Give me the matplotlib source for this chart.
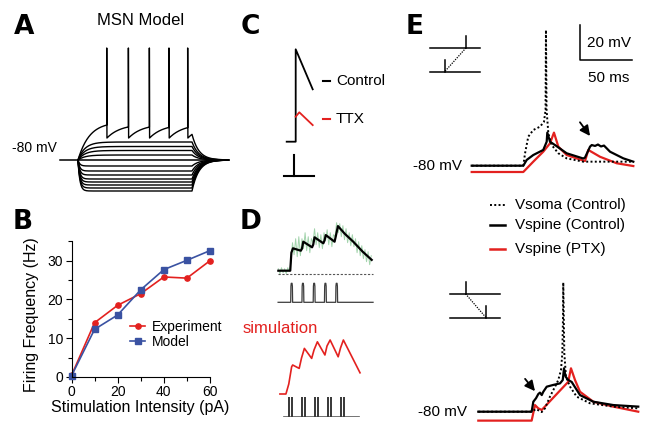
import numpy as np
import matplotlib
matplotlib.use("Agg")
import matplotlib.pyplot as plt

plt.rcParams["font.family"] = ["Liberation Sans", "DejaVu Sans"]

W, H = 649, 425
RED = "#e3211f"
BLUE = "#3a52a2"
GREEN = "#a3d4ad"
GREY = "#3c3c3c"

# -------------------------------------------------------
# Data
# -------------------------------------------------------
# A: MSN model, current steps (mV / ms)
a_rest = -80
a_step_ms = 500
a_levels = [-62, -66.5, -70.5, -75, -86, -91, -95, -99, -102, -105, -108, -111]
a_spike_ms = [126, 221, 313, 399, 481]
a_spike_top = 32
a_spike_trough = -58

# B: f-I curve
stim_pA = [0, 10, 20, 30, 40, 50, 60]
freq_exp = [0.4, 14.0, 18.5, 21.5, 25.8, 25.5, 30.0]
freq_model = [0.3, 12.3, 16.0, 22.5, 27.7, 30.1, 32.6]

# C: control vs TTX (ms, mV above rest)
c_control_t = [-18, 0, 0, 34]
c_control_v = [0, 0, 46.2, 26.2]
c_ttx_t = [0, 7.2, 34]
c_ttx_v = [12.5, 14.7, 8.3]

# D: experiment (black), noisy recording (green), simulation (red)
d_exp_t = [-55, -2, 3, 10, 45, 50, 56, 95, 100, 106, 145, 150, 156, 195, 200, 210, 240, 278, 320, 360]
d_exp_v = [-80, -80, -71, -68.8, -70, -69, -65.5, -68.3, -67, -63.3, -66.3, -65, -62.2, -65.5, -63,
           -57.7, -61.5, -65.5, -70.5, -74.6]
d_rec_v = [-79, -81.5, -78.5, -81, -79, -81.5, -78.5, -80.5, -76, -66, -72, -64, -73, -63, -72.5,
           -64, -69, -61, -70, -63, -71, -64, -66, -59, -67, -61, -68.5, -62, -69, -61,
           -65, -59.5, -67, -61, -68, -62, -63, -56, -61, -56.5, -63, -57.5, -64.5, -59, -66,
           -61, -67.5, -62, -68, -64, -71, -65.5, -72.5, -67.5, -74, -69.5, -75.5, -70.5, -77, -72.5]
d_rec_t = np.arange(-55, 365, 7)
d_pulse_ms = [0, 50, 100, 150, 200]
d_sim_t = [-31, -8, 3, 14, 18, 43, 52, 63, 91, 100, 113, 142, 150, 162, 193, 202, 213, 277]
d_sim_v = [-80, -80, -75, -66.4, -65.5, -67.2, -62, -57.2, -62.2, -58, -53.9, -60.5, -56, -53,
           -61.4, -57, -53, -69.4]
d_burst_ms = [0, 50, 100, 150, 200]
d_burst_offsets = [0, 5, 10, 15]

# E: upper pairing (spine first)
e1_spine_t = [0, 49.6, 52.9, 59.2, 68.8, 72.1, 72.7, 75.3, 80.1, 91.3, 107.3, 109, 113.8, 115.4,
              118.6, 121.4, 124.3, 127.2, 133, 145.8, 155.4]
e1_spine_v = [-80, -80, -76.7, -73.9, -71.0, -66.3, -61.1, -66.3, -68.2, -72.9, -75.9, -75.3, -69.1,
              -68.2, -68.7, -67.9, -69.0, -68.5, -72, -75.8, -77.7]
e1_ptx_t = [0, 49.6, 59.2, 68.8, 75.3, 79.1, 83.3, 91.3, 107.3, 109, 112.1, 123.4, 139.4, 155.4]
e1_ptx_v = [-83.6, -83.6, -77.7, -72, -67.2, -61.1, -69.1, -73.9, -77.1, -77.3, -71, -74.9, -78.6, -80.2]
e1_soma_t = [0, 49.6, 51.3, 54.4, 59.2, 65.7, 69.5, 71.0, 71.4, 72.0, 73.7, 76.9, 83.3, 91.3, 107.3, 155.4]
e1_soma_v = [-80, -80, -72.9, -63.4, -59.6, -57.7, -54.9, -48.2, -2.5, -48.2, -61.5, -68.2, -72.9,
             -75.8, -77.7, -77.7]

# E: lower pairing (soma first)
e2_spine_t = [0, 51.3, 52.9, 55.5, 57.7, 59.3, 61, 62.5, 65.8, 72.1, 78.6, 81.2, 82.4, 84, 86.5,
              89.8, 97.8, 110.6, 129.8, 153.8]
e2_spine_v = [-80, -80, -74.3, -72.3, -69.9, -69.1, -70.5, -68.6, -65.7, -64.7, -63.8, -61.9, -55.2,
              -60, -61.9, -63, -70.5, -74.3, -76.2, -77.1]
e2_ptx_t = [0, 51.3, 54.5, 57.7, 61, 86.5, 89.1, 93, 97.8, 110.6, 129.8, 153.8]
e2_ptx_v = [-85.1, -85.1, -76.2, -78.1, -79, -62.9, -55.2, -61.9, -68.6, -74.3, -77.1, -80]
e2_soma_t = [0, 51.3, 55.5, 61, 64.1, 68.9, 73.8, 76.9, 79.5, 80.8, 81.4, 81.7, 82.7, 84.3, 88.2,
             94.6, 107.4, 129.8, 153.8]
e2_soma_v = [-80, -80, -78.5, -80.2, -78.1, -71.4, -65.7, -61.9, -56.2, -46.6, -27.6, -6.2, -46.6,
             -60, -65.7, -71.4, -75.2, -77.1, -78.1]

e_scale_mv = 20
e_scale_ms = 50


fig = plt.figure(figsize=(W / 100, H / 100), dpi=100)

# overlay in pixel units, only for labels and legend keys
over = fig.add_axes([0, 0, 1, 1], zorder=5)
over.set_xlim(0, W)
over.set_ylim(H, 0)
over.axis("off")


def trace_axes(box, t0_px, sx, v_px, sy, v_ref=-80):
    """Axes placed on a pixel box, with t=0 at t0_px and v_ref at v_px."""
    left, top, right, bottom = box
    ax = fig.add_axes([left / W, 1 - bottom / H, (right - left) / W, (bottom - top) / H])
    ax.set_xlim((left - t0_px) / sx, (right - t0_px) / sx)
    ax.set_ylim(v_ref + (v_px - bottom) / sy, v_ref + (v_px - top) / sy)
    ax.axis("off")
    return ax


def panel_letter(x, y, s):
    over.text(x, y, s, fontsize=19, fontweight="bold", family="DejaVu Sans",
              ha="left", va="baseline")


# -------------------------------------------------------
# A. step responses
# -------------------------------------------------------
def step_off(t_end, v_end):
    t = np.linspace(t_end, t_end + 160, 80)
    return t, a_rest + (v_end - a_rest) * np.exp(-(t - t_end) / 30)


axA = trace_axes((55, 40, 235, 200), 78, 0.228, 160, 1.0)
axA.plot([-79, 658], [a_rest, a_rest], color="k", lw=1.1)
for lv in a_levels:
    tau = 30 if lv > a_rest else 8
    t1 = np.linspace(0, a_step_ms, 150)
    v1 = a_rest + (lv - a_rest) * (1 - np.exp(-t1 / tau))
    t2, v2 = step_off(a_step_ms, v1[-1])
    axA.plot(np.r_[t1, t2], np.r_[v1, v2], color="k", lw=1.0, clip_on=False)

# spiking sweep
t1 = np.linspace(0, a_spike_ms[0], 60)
ts, vs = list(t1), list(a_rest + 38 * (1 - np.exp(-t1 / 50)))
ends = a_spike_ms[1:] + [a_step_ms]
for sp, nxt in zip(a_spike_ms, ends):
    ts += [sp, sp + 1]
    vs += [a_spike_top, a_spike_trough]
    tt = np.linspace(sp + 1, nxt, 30)
    ts += list(tt)
    vs += list(a_spike_trough + 14 * (1 - np.exp(-(tt - sp - 1) / 60)))
t2, v2 = step_off(a_step_ms, vs[-1])
axA.plot(ts + list(t2), vs + list(v2), color="k", lw=1.0, clip_on=False)
axA.text(-92, -68, "-80 mV", ha="right", va="center", fontsize=10)
over.text(141, 25, "MSN Model", ha="center", va="baseline", fontsize=12)
panel_letter(14, 33.5, "A")

# -------------------------------------------------------
# B. firing frequency
# -------------------------------------------------------
b_left, b_bottom, b_w, b_h = 71.5, 377, 138.5, 135.7
axB = fig.add_axes([b_left / W, 1 - b_bottom / H, b_w / W, b_h / H])
axB.plot(stim_pA, freq_exp, color=RED, lw=1.2, marker="o", ms=3.8, clip_on=False,
         label="Experiment")
axB.plot(stim_pA, freq_model, color=BLUE, lw=1.2, marker="s", ms=3.8, clip_on=False,
         label="Model")
axB.set_xlim(0, 60)
axB.set_ylim(0, 35)
for side in ["top", "right"]:
    axB.spines[side].set_visible(False)
for side in ["left", "bottom"]:
    axB.spines[side].set_linewidth(0.8)
axB.set_xticks([0, 20, 40, 60])
axB.set_xticks([10, 30, 50], minor=True)
axB.set_yticks([0, 10, 20, 30])
axB.set_yticks([5, 15, 25, 35], minor=True)
axB.tick_params(which="both", direction="out", labelsize=10, pad=2, width=0.8)
axB.tick_params(which="major", length=4)
axB.tick_params(which="minor", length=3)
axB.text((31.7 - b_left) / b_w, (b_bottom - 315) / b_h, "Firing Frequency (Hz)", rotation=90,
         ha="center", va="center", fontsize=11.5, transform=axB.transAxes)
axB.text((140 - b_left) / b_w, (b_bottom - 412) / b_h, "Stimulation Intensity (pA)",
         ha="center", va="baseline", fontsize=11.5, transform=axB.transAxes)
axB.legend(loc="center left", bbox_to_anchor=((130 - b_left) / b_w, (b_bottom - 334.5) / b_h),
           frameon=False, fontsize=10, handlelength=1.1, handletextpad=0.45, labelspacing=0.1,
           borderpad=0, borderaxespad=0, numpoints=1)
panel_letter(13, 228.5, "B")

# -------------------------------------------------------
# C. control vs TTX
# -------------------------------------------------------
axC = trace_axes((270, 40, 400, 185), 295.7, 0.5, 141.7, 2.0, v_ref=0)
axC.plot(c_control_t, c_control_v, color="k", lw=1.3, clip_on=False)
axC.plot(c_ttx_t, c_ttx_v, color=RED, lw=1.3, clip_on=False)
axC.plot([54.6, 68.6], [30.3, 30.3], color="k", lw=1.5)
axC.plot([54.6, 68.6], [11.3, 11.3], color=RED, lw=1.5)
axC.text(80.6, 30.3, "Control", ha="left", va="center", fontsize=11)
axC.text(80.6, 11.3, "TTX", ha="left", va="center", fontsize=11)
axC.plot([-3.4, -3.4], [-6.6, -17.1], color="k", lw=1.5)
axC.plot([-23.4, 36.6], [-17.1, -17.1], color="k", lw=1.5)
panel_letter(241, 33.5, "C")

# -------------------------------------------------------
# D. trains: experiment and simulation
# -------------------------------------------------------
axD1 = trace_axes((270, 215, 380, 310), 290.7, 0.225, 270.7, 2.0)
axD1.plot(d_rec_t, d_rec_v, color=GREEN, lw=0.7)
axD1.plot(d_exp_t, d_exp_v, color="k", lw=1.6)
axD1.plot([-55, 365], [-81.8, -81.8], color="#555555", lw=0.8, ls=(0, (2, 1.5)))
px, py = [-56], [0]
for p in d_pulse_ms:
    px += [p, p + 1, p + 2.5, p + 6, p + 7.5, p + 8.5]
    py += [0, 0.85, 1, 1, 0.85, 0]
px.append(366)
py.append(0)
axD1.plot(px, -95.8 + 9.5 * np.array(py), color=GREY, lw=0.9)

axD2 = trace_axes((270, 330, 380, 420), 288, 0.26, 394, 2.0)
axD2.plot(d_sim_t, d_sim_v, color=RED, lw=1.2)
bx, by = [-19], [0]
for p in d_burst_ms:
    for o in d_burst_offsets:
        bx += [p + o, p + o, p + o]
        by += [0, 1, 0]
bx.append(273)
by.append(0)
axD2.plot(bx, -90.85 + 9.5 * np.array(by), color=GREY, lw=0.5)
over.text(243, 333, "simulation", color=RED, ha="left", va="baseline", fontsize=12)
panel_letter(240, 228.5, "D")

# -------------------------------------------------------
# E. spine vs soma
# -------------------------------------------------------
dot = (0, (1, 1.2))


def pairing_inset(box, upper_x, lower_x):
    left, top, right, bottom = box
    ax = fig.add_axes([left / W, 1 - bottom / H, (right - left) / W, (bottom - top) / H])
    ax.set_xlim(0, 1)
    ax.set_ylim(1, 0)
    ax.axis("off")
    ax.plot([0, 1], [0.33, 0.33], color="k", lw=1.1, clip_on=False)
    ax.plot([0, 1], [1, 1], color="k", lw=1.1, clip_on=False)
    ax.plot([upper_x, upper_x], [0, 0.33], color="k", lw=1.1, clip_on=False)
    ax.plot([lower_x, lower_x], [0.66, 1], color="k", lw=1.1, clip_on=False)
    ax.plot([upper_x, lower_x], [0.33, 0.98], color="k", lw=0.9, ls=(0, (1, 1)), clip_on=False)


axE1 = trace_axes((405, 20, 645, 180), 471.7, 1.04, 165.7, 1.75)
axE1.plot(e1_ptx_t, e1_ptx_v, color=RED, lw=1.6)
axE1.plot(e1_spine_t, e1_spine_v, color="k", lw=1.6)
axE1.plot(e1_soma_t, e1_soma_v, color="k", lw=1.4, ls=dot)
axE1.annotate("", xy=(115.4, -64.3), xytext=(102.5, -53.9),
              arrowprops=dict(arrowstyle="-|>", color="k", lw=1.3, mutation_scale=15))
axE1.text(-9.6, -80, "-80 mV", ha="right", va="center", fontsize=11)
# scale bar
sb_t, sb_v = 104.1, -19.6
axE1.plot([sb_t, sb_t, sb_t + e_scale_ms], [sb_v + e_scale_mv, sb_v, sb_v], color="k", lw=1.1)
axE1.text(sb_t + 6.8, sb_v + e_scale_mv / 2, f"{e_scale_mv} mV", ha="left", va="center", fontsize=11)
axE1.text(sb_t + 7.5, sb_v - 10.3, f"{e_scale_ms} ms", ha="left", va="center", fontsize=11)
pairing_inset((430, 36, 480, 72), 0.72, 0.3)

axE2 = trace_axes((405, 270, 645, 425), 478.3, 1.04, 411.7, 1.75)
axE2.plot(e2_ptx_t, e2_ptx_v, color=RED, lw=1.6)
axE2.plot(e2_spine_t, e2_spine_v, color="k", lw=1.6)
axE2.plot(e2_soma_t, e2_soma_v, color="k", lw=1.4, ls=dot)
axE2.annotate("", xy=(56.2, -69.5), xytext=(43.3, -60),
              arrowprops=dict(arrowstyle="-|>", color="k", lw=1.3, mutation_scale=15))
axE2.text(-10.9, -80, "-80 mV", ha="right", va="center", fontsize=11)
pairing_inset((450, 281.7, 500, 318.3), 0.31, 0.72)

# legend for E
for yy, style, col, lab in [(205, dot, "k", "Vsoma (Control)"),
                            (225, "-", "k", "Vspine (Control)"),
                            (248.5, "-", RED, "Vspine (PTX)")]:
    over.plot([490, 505], [yy, yy], color=col, lw=1.8 if style == "-" else 1.4, ls=style)
    over.text(515, yy, lab, ha="left", va="center", fontsize=11)
panel_letter(406, 33.5, "E")

fig.savefig("out.png", dpi=100)
